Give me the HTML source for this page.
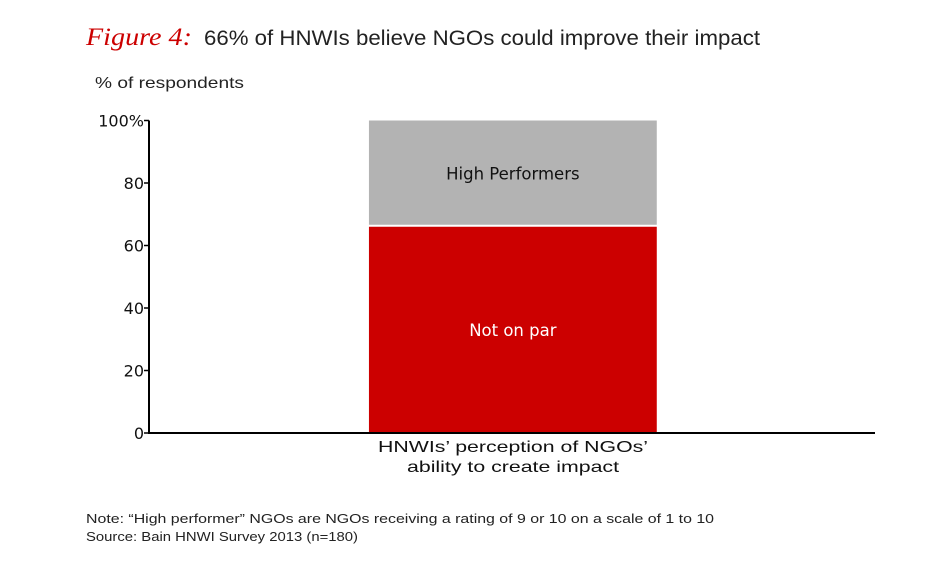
<!DOCTYPE html>
<html><head><meta charset="utf-8">
<style>
body{margin:0;background:#fff;width:950px;height:565px;overflow:hidden;font-family:"Liberation Sans",sans-serif;}
</style></head>
<body>
<svg width="950" height="565" xmlns="http://www.w3.org/2000/svg">
  <text x="86" y="45" font-family="Liberation Serif, serif" font-style="italic" font-size="25" fill="#cc0000" textLength="106" lengthAdjust="spacingAndGlyphs">Figure 4:</text>
  <text x="204" y="45" font-size="21" fill="#222" textLength="556" lengthAdjust="spacingAndGlyphs">66% of HNWIs believe NGOs could improve their impact</text>
  <text x="95" y="88" font-size="16" fill="#222" textLength="149" lengthAdjust="spacingAndGlyphs">% of respondents</text>
  <g id="yaxis"></g>
  <g id="bars"></g>
  <line x1="148" y1="433" x2="875" y2="433" stroke="#000" stroke-width="2"/>
  <text x="513" y="452" font-size="16" text-anchor="middle" fill="#111" textLength="270" lengthAdjust="spacingAndGlyphs">HNWIs’ perception of NGOs’</text>
  <text x="513" y="472" font-size="16" text-anchor="middle" fill="#111" textLength="212" lengthAdjust="spacingAndGlyphs">ability to create impact</text>
  <text x="86" y="523" font-size="13" fill="#222" textLength="628" lengthAdjust="spacingAndGlyphs">Note: “High performer” NGOs are NGOs receiving a rating of 9 or 10 on a scale of 1 to 10</text>
  <text x="86" y="541" font-size="13" fill="#222" textLength="272" lengthAdjust="spacingAndGlyphs">Source: Bain HNWI Survey 2013 (n=180)</text>
</svg>
<script>
const categories = ["HNWIs' perception of NGOs' ability to create impact"];
const seriesNames = ["Not on par", "High Performers"];
const notOnPar = [66];
const highPerformers = [34];
const yTicks = [0, 20, 40, 60, 80, 100];
const yTickLabels = ["0", "20", "40", "60", "80", "100%"];

const NS = "http://www.w3.org/2000/svg";
const y0 = 433, y1 = 120.5, vmax = 100;
function y(v){ return y0 - (v / vmax) * (y0 - y1); }
const bandL = 150, bandR = 875;
function xBand(i){ const w = (bandR - bandL) / categories.length; return bandL + i * w; }
const bandW = (bandR - bandL) / categories.length;

const ya = document.getElementById('yaxis');
const axis = document.createElementNS(NS, 'line');


axis.setAttribute('x1', 149); axis.setAttribute('x2', 149);
axis.setAttribute('y1', y(100)); axis.setAttribute('y2', y0);
axis.setAttribute('stroke', '#000'); axis.setAttribute('stroke-width', 2);
ya.appendChild(axis);
yTicks.forEach((t, i) => {
  const tk = document.createElementNS(NS, 'line');
  
  
  tk.setAttribute('x1', 144); tk.setAttribute('x2', 149);
  tk.setAttribute('y1', y(t)); tk.setAttribute('y2', y(t));
  tk.setAttribute('stroke', '#000'); tk.setAttribute('stroke-width', 1.5);
  ya.appendChild(tk);
  const lb = document.createElementNS(NS, 'text');
  
  
  lb.setAttribute('x', 144); lb.setAttribute('y', y(t) + 6);
  lb.setAttribute('text-anchor', 'end'); lb.setAttribute('font-size', 16); lb.setAttribute('fill', '#111');
  lb.setAttribute('font-family', 'DejaVu Sans, sans-serif');
  lb.textContent = yTickLabels[i];
  ya.appendChild(lb);
});

const bars = document.getElementById('bars');
categories.forEach((c, i) => {
  const bx = xBand(i) + bandW * 0.302, bw = bandW * 0.397;
  const r = document.createElementNS(NS, 'rect');
  
  
  r.setAttribute('x', bx); r.setAttribute('y', y(notOnPar[i]));
  r.setAttribute('width', bw); r.setAttribute('height', y0 - y(notOnPar[i]));
  r.setAttribute('fill', '#cc0000');
  bars.appendChild(r);
  const g = document.createElementNS(NS, 'rect');
  
  
  const top = notOnPar[i] + highPerformers[i];
  g.setAttribute('x', bx); g.setAttribute('y', y(top));
  g.setAttribute('width', bw); g.setAttribute('height', y(notOnPar[i]) - y(top) - 2);
  g.setAttribute('fill', '#b3b3b3');
  bars.appendChild(g);
  const t1 = document.createElementNS(NS, 'text');
  
  
  t1.setAttribute('x', bx + bw / 2); t1.setAttribute('y', y(notOnPar[i] / 2) + 6);
  t1.setAttribute('text-anchor', 'middle'); t1.setAttribute('font-size', 16.5); t1.setAttribute('fill', '#fff');
  t1.setAttribute('font-family', 'DejaVu Sans, sans-serif');
  t1.textContent = seriesNames[0];
  bars.appendChild(t1);
  const t2 = document.createElementNS(NS, 'text');
  
  
  t2.setAttribute('x', bx + bw / 2); t2.setAttribute('y', y(notOnPar[i] + highPerformers[i] / 2) + 6);
  t2.setAttribute('text-anchor', 'middle'); t2.setAttribute('font-size', 16.5); t2.setAttribute('fill', '#111');
  t2.setAttribute('font-family', 'DejaVu Sans, sans-serif');
  t2.textContent = seriesNames[1];
  bars.appendChild(t2);
});
</script>
</body></html>
